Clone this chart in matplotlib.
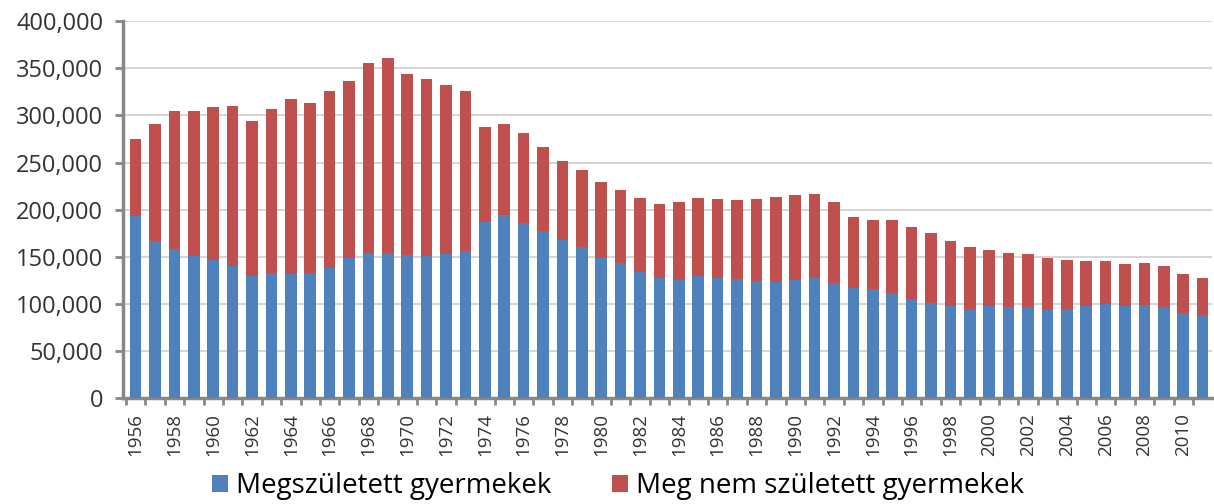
import numpy as np
import matplotlib
matplotlib.use('Agg')
import matplotlib.pyplot as plt
from matplotlib.ticker import StrMethodFormatter, FixedLocator

# évek
years = list(range(1956, 2012))

# megszületett gyermekek (élveszületések)
born = [193000, 167000, 158500, 151000, 146500, 140500, 130000, 132500, 132000, 133000,
        138500, 149000, 154500, 154500, 152000, 150500, 153000, 156000, 186500, 194000,
        185500, 177500, 168000, 160500, 148500, 143000, 133500, 127000, 125500, 130000,
        128000, 126000, 124500, 123500, 125500, 127000, 122000, 117000, 115500, 112000,
        105500, 100500, 97500, 94500, 97500, 97000, 97000, 94500, 95000, 97500,
        100000, 97500, 99000, 96500, 90500, 88000]

# meg nem született gyermekek
not_born = [82500, 124000, 146000, 153500, 162500, 170000, 164000, 174000, 185000, 180500,
            187000, 188000, 201500, 206500, 192000, 188000, 179000, 170000, 101500, 96500,
            95500, 89000, 83500, 81500, 81000, 77500, 78500, 79000, 82500, 82000,
            83500, 84000, 87000, 90000, 90500, 90000, 86000, 75000, 74000, 77000,
            76000, 74500, 69500, 66000, 59500, 57000, 55500, 54500, 52000, 48500,
            46000, 44500, 44000, 43500, 41000, 39000]

labels = ['Megszületett gyermekek', 'Meg nem született gyermekek']
colors = ['#4F81BD', '#C0504D']

plt.rcParams['font.family'] = ['Open Sans', 'DejaVu Sans']

fig = plt.figure(figsize=(12.14, 5.04), dpi=100)
ax = fig.add_axes([0.101, 0.21, 0.897, 0.748])

x = np.arange(len(years))
ax.bar(x, born, width=0.6, color=colors[0], label=labels[0], zorder=3)
ax.bar(x, not_born, width=0.6, bottom=born, color=colors[1], label=labels[1], zorder=3)

ax.set_ylim(0, 400000)
ax.set_xlim(-0.67, len(years) - 0.54)
ax.yaxis.set_major_locator(FixedLocator(np.arange(0, 400001, 50000)))
ax.yaxis.set_major_formatter(StrMethodFormatter('{x:,.0f}'))
ax.grid(axis='y', color='#d0d0d0', linewidth=1.2, zorder=0)

ax.set_xticks(x[::2])
ax.set_xticklabels([str(y) for y in years[::2]], rotation=90, fontsize=13.5, color='#333333')
ax.set_xticks(x - 0.5, minor=True)
ax.tick_params(axis='x', which='major', length=0, pad=11)
ax.tick_params(axis='x', which='minor', length=5, width=2, color='#888888', direction='out')
ax.tick_params(axis='y', length=6, width=2, color='#888888', labelsize=17, labelcolor='#333333', pad=8)

for s in ['top', 'right']:
    ax.spines[s].set_visible(False)
for s in ['left', 'bottom']:
    ax.spines[s].set_color('#888888')
    ax.spines[s].set_linewidth(2.5)

ax.legend(loc='lower center', bbox_to_anchor=(0.455, -0.3), ncol=2, frameon=False,
          fontsize=20, handlelength=0.55, handleheight=0.55, handletextpad=0.3,
          columnspacing=2.2, borderaxespad=0)

plt.savefig('out.png', dpi=100)
plt.close()
